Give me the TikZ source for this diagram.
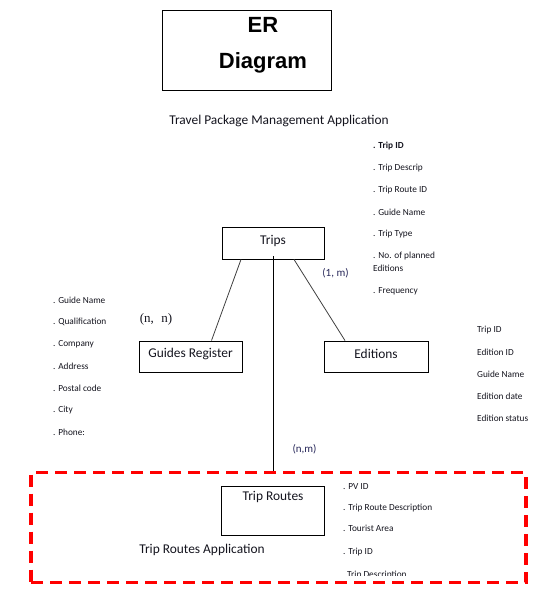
\documentclass[tikz,border=0pt]{standalone}
\usepackage{fontspec}
\setmainfont{Carlito}
\newfontfamily\arialfont{Liberation Sans}
\newfontfamily\serfont{Liberation Serif}
\usetikzlibrary{calc}
\definecolor{txt}{RGB}{20,20,30}
\definecolor{navy}{RGB}{40,40,90}
\definecolor{dred}{RGB}{255,0,0}
\begin{document}
\begin{tikzpicture}[x=1pt,y=-1pt,
  ebox/.style={draw=black,line width=0.9pt,inner sep=0pt},
  conn/.style={draw=black!75,line width=0.8pt},
  attr/.style={anchor=west,inner sep=0pt,font=\fontsize{9.3}{11}\selectfont,text=txt},
  blabel/.style={inner sep=0pt,font=\fontsize{13.4}{15}\selectfont,text=txt},
  card/.style={inner sep=0pt,font=\fontsize{11}{13}\selectfont,text=navy}]
\useasboundingbox (0,0) rectangle (551,597);
% title box
\node[ebox,minimum width=169pt,minimum height=80pt] (er) at (246.5,50) {};
\node[inner sep=0pt,font=\arialfont\bfseries\fontsize{22}{24}\selectfont] (ert) at (263,25) {ER};
\node[inner sep=0pt,font=\arialfont\bfseries\fontsize{22}{24}\selectfont] (erd) at (263,63) {Diagram};
\node[blabel] (title) at (279,121) {Travel Package Management Application};
% trips attributes
\node[attr,font=\bfseries\fontsize{9.3}{11}\selectfont] (ta1) at (373,146) {. Trip ID};
\node[attr] (ta2) at (373,168) {. Trip Descrip};
\node[attr] (ta3) at (373,190) {. Trip Route ID};
\node[attr] (ta4) at (373,212) {. Guide Name};
\node[attr] (ta5) at (373,234) {. Trip Type};
\node[attr] (ta6) at (373,256) {. No. of planned};
\node[attr] (ta7) at (373,268) {Editions};
\node[attr] (ta8) at (373,291) {. Frequency};
% entities
\node[ebox,minimum width=102pt,minimum height=32pt] (trips) at (273,243) {};
\node[blabel] (tripst) at (273,241) {Trips};
\node[ebox,minimum width=103pt,minimum height=31pt] (guides) at (190.5,356.5) {};
\node[blabel] (guidest) at (190.5,354) {Guides Register};
\node[ebox,minimum width=104pt,minimum height=31pt] (editions) at (376,356.5) {};
\node[blabel] (editionst) at (376,354) {Editions};
% guides attributes
\node[attr] (ga1) at (53,300) {. Guide Name};
\node[attr] (ga2) at (53,322) {. Qualification};
\node[attr] (ga3) at (53,344) {. Company};
\node[attr] (ga4) at (53,366) {. Address};
\node[attr] (ga5) at (53,388) {. Postal code};
\node[attr] (ga6) at (53,410) {. City};
\node[attr] (ga7) at (53,432) {. Phone:};
% editions attributes
\node[attr] (ea1) at (477,330) {Trip ID};
\node[attr] (ea2) at (477,352) {Edition ID};
\node[attr] (ea3) at (477,374) {Guide Name};
\node[attr] (ea4) at (477,396) {Edition date};
\node[attr] (ea5) at (477,418) {Edition status};
% cardinalities
\node[inner sep=0pt,font=\serfont\fontsize{13}{15}\selectfont,text=txt] (c1) at (156,319) {(n,\,\, n)};
\node[card] (c2) at (335.5,273) {(1, m)};
\node[card] (c3) at (304.5,449) {(n,m)};
% application frame
\node[draw=dred,line width=3.5pt,dash pattern=on 12pt off 7pt,minimum width=495pt,minimum height=110pt,inner sep=0pt] (app) at (278.5,527.5) {};
\node[ebox,minimum width=103pt,minimum height=49pt] (routes) at (273,510.5) {};
\node[blabel] (routest) at (273,497) {Trip Routes};
\node[blabel] (appt) at (202,550) {Trip Routes Application};
\node[attr] (ra1) at (343,487) {. PV ID};
\node[attr] (ra2) at (343,508) {. Trip Route Description};
\node[attr] (ra3) at (343,528) {. Tourist Area};
\node[attr] (ra4) at (343,552) {. Trip ID};
\begin{scope}
\clip (300,560) rectangle (500,575);
\node[attr,anchor=base west] (ra5) at (347,577) {Trip Description};
\end{scope}
% connectors
\draw[conn] ([xshift=-32pt]trips.south) -- ([xshift=21pt]guides.north);
\draw[conn] ([xshift=21pt]trips.south) -- ([xshift=-31pt]editions.north);
\draw[black,line width=1pt] ([yshift=3pt]trips.south) -- (trips.south |- app.north);
\end{tikzpicture}
\end{document}
